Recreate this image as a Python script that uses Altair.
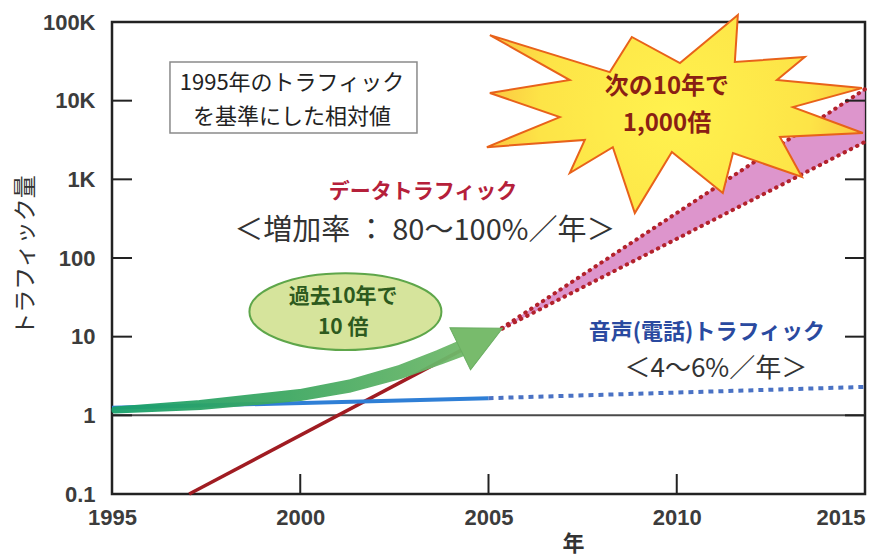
import altair as alt
import pandas as pd

# ---------------- data ----------------
x_ticks = [1995, 2000, 2005, 2010, 2015]
y_ticks = [0.1, 1, 10, 100, 1000, 10000, 100000]
inner_x_ticks = [2000, 2005, 2010]
inner_y_ticks = [1, 10, 100, 1000, 10000]

# data traffic (solid history, dotted 80%..100%/yr forecast)
data_years = [1997.05, 2005.2]
data_values = [0.1, 11.5]
data_fc_years = [2005.2, 2015]
data_fc_high = [11.5, 14000]
data_fc_low = [11.5, 3000]

# voice traffic (solid history, dotted forecast)
voice_years = [1995, 2005]
voice_values = [1.25, 1.65]
voice_fc_years = [2005, 2015]
voice_fc_values = [1.65, 2.3]

# green "10x in the past 10 years" arrow
arrow_years = [1995.08, 1997.34, 1999.99, 2001.32, 2002.65, 2003.71, 2004.24]
arrow_values = [1.17, 1.35, 1.81, 2.36, 3.56, 5.52, 6.97]
arrow_width = [7, 10, 12, 13, 14, 15, 16]
arrow_head_year = [2004.81]
arrow_head_value = [9.48]

# annotation anchors (year, value)
box_pos = ([1999.82], [10965])
box_lines = ["1995年のトラフィック", "を基準にした相対値"]
box_line_years = [1999.78, 1999.78]
box_line_values = [16800, 6200]

star_pos = ([2009.95], [6760])
star_lines = ["次の10年で", "1,000倍"]
star_line_years = [2009.74, 2009.74]
star_line_values = [14920, 5050]

ellipse_pos = ([2001.2], [20.8])
ellipse_lines = ["過去10年で", "10 倍"]
ellipse_line_years = [2001.14, 2001.14]
ellipse_line_values = [31.9, 12.9]

data_label = ["データトラフィック"]
data_label_pos = ([2003.26], [690])
data_rate = ["＜増加率 ： 80～100%／年＞"]
data_rate_pos = ([2003.31], [220])
voice_label = ["音声(電話)トラフィック"]
voice_label_pos = ([2010.8], [11.5])
voice_rate = ["＜4～6%／年＞"]
voice_rate_pos = ([2011.04], [3.88])

# ---------------- scales / axes ----------------
W, H = 753, 472
JP = "Noto Sans CJK JP"

xs = alt.Scale(domain=[1995, 2015], nice=False, zero=False)
ys = alt.Scale(type="log", domain=[0.1, 100000], nice=False)

x_axis = alt.Axis(
    values=x_ticks, format="d", title="年", ticks=False, tickSize=0, domain=False,
    grid=False, labelFont="Liberation Sans", labelFontSize=22, labelFontWeight="bold",
    labelColor="#3c3c3c", labelPadding=13, labelOverlap=False,
    labelAlign={"condition": {"test": "datum.value == 2015", "value": "right"}, "value": "center"},
    titleFont=JP, titleFontSize=22, titleFontWeight="bold", titleColor="#333333",
    titleX=461, titleY=49, titleAlign="center", titleBaseline="middle",
)
y_axis = alt.Axis(
    values=y_ticks, title="トラフィック量", ticks=False, tickSize=0, domain=False, grid=False,
    labelExpr="datum.value >= 1000 ? format(datum.value / 1000, 'd') + 'K' : (datum.value < 1 ? '0.1' : format(datum.value, 'd'))",
    labelFont="Liberation Sans", labelFontSize=22, labelFontWeight="bold", labelColor="#3c3c3c",
    labelPadding=17, labelOverlap=False,
    titleFont=JP, titleFontSize=23, titleFontWeight="normal", titleColor="#333333",
    titleAngle=270, titleX=-87, titleY=233, titleAlign="center", titleBaseline="middle",
)

X = alt.X("year:Q", scale=xs, axis=x_axis)
Y = alt.Y("value:Q", scale=ys, axis=y_axis)


def df(years, values, **extra):
    d = {"year": years, "value": values}
    d.update(extra)
    return pd.DataFrame(d)


# ---------------- layers ----------------
base_line = alt.Chart(pd.DataFrame({"value": [1]})).mark_rule(
    color="#4a4a4a", strokeWidth=2).encode(y=Y)

band = alt.Chart(df(data_fc_years, data_fc_low, value2=data_fc_high)).mark_area(
    color="#d98ac6", opacity=0.9).encode(x=X, y=Y, y2="value2:Q")

dotted_style = dict(color="#b3222c", strokeWidth=4, strokeDash=[0.5, 6.5], strokeCap="round")
data_hi = alt.Chart(df(data_fc_years, data_fc_high)).mark_line(**dotted_style).encode(x=X, y=Y)
data_lo = alt.Chart(df(data_fc_years, data_fc_low)).mark_line(**dotted_style).encode(x=X, y=Y)
data_line = alt.Chart(df(data_years, data_values)).mark_line(
    color="#a01c22", strokeWidth=3.5).encode(x=X, y=Y)

voice_line = alt.Chart(df(voice_years, voice_values)).mark_line(
    color="#2f7fd6", strokeWidth=4).encode(x=X, y=Y)
voice_fc = alt.Chart(df(voice_fc_years, voice_fc_values)).mark_line(
    color="#4a72c4", strokeWidth=4, strokeDash=[5, 5]).encode(x=X, y=Y)

green_grad = alt.LinearGradient(
    gradient="linear", x1=0, y1=0, x2=1, y2=0,
    stops=[alt.GradientStop(color="#17a06c", offset=0),
           alt.GradientStop(color="#3fa862", offset=0.5),
           alt.GradientStop(color="#72b96a", offset=1)])
arrow = alt.Chart(df(arrow_years, arrow_values, w=arrow_width)).mark_trail(
    color=green_grad, opacity=0.95).encode(
    x=X, y=Y, size=alt.Size("w:Q", scale=None, legend=None))
head = alt.Chart(df(arrow_head_year, arrow_head_value)).mark_point(
    shape="M -1 -1 L 1 0 L -1 1 Z", size=2209, angle=334, filled=True,
    fill="#78bb6c", stroke="#6aae62", strokeWidth=1, opacity=1).encode(x=X, y=Y)

ellipse = alt.Chart(df(*ellipse_pos)).mark_point(
    shape="M -1 0 A 1 0.4 0 1 1 1 0 A 1 0.4 0 1 1 -1 0 Z", size=36864, filled=True,
    fill="#d6e49c", stroke="#5ea64a", strokeWidth=2, opacity=1).encode(x=X, y=Y)
ellipse_text = alt.Chart(df(ellipse_line_years, ellipse_line_values, t=ellipse_lines)).mark_text(
    font=JP, fontSize=21, fontWeight="bold", color="#2d5a1e").encode(x=X, y=Y, text="t:N")

star_vertices = [(-0.984, -0.420), (-0.346, -0.223), (-0.229, -0.410), (0.027, -0.271),
                 (0.335, -0.527), (0.319, -0.277), (0.691, -0.303), (0.543, -0.181),
                 (0.995, -0.138), (0.628, -0.037), (1.0, 0.101), (0.559, 0.122),
                 (0.676, 0.335), (0.309, 0.207), (0.255, 0.420), (-0.016, 0.202),
                 (-0.213, 0.527), (-0.330, 0.176), (-0.559, 0.314), (-0.479, 0.138),
                 (-1.0, 0.176), (-0.612, 0.016), (-0.984, -0.112), (-0.559, -0.181)]
star_path = "M " + " L ".join(f"{u} {v}" for u, v in star_vertices) + " Z"
star_fill = alt.RadialGradient(
    gradient="radial", x1=0.5, y1=0.5, x2=0.5, y2=0.5, r1=0, r2=0.6,
    stops=[alt.GradientStop(color="#fff24e", offset=0),
           alt.GradientStop(color="#fde447", offset=0.6),
           alt.GradientStop(color="#f9b23c", offset=1)])
star = alt.Chart(df(*star_pos)).mark_point(
    shape=star_path, size=141376, filled=True, fill=star_fill,
    stroke="#e8621a", strokeWidth=2, opacity=1).encode(x=X, y=Y)
star_text = alt.Chart(df(star_line_years, star_line_values, t=star_lines)).mark_text(
    font=JP, fontSize=24, fontWeight="bold", color="#8a1f14").encode(x=X, y=Y, text="t:N")

box = alt.Chart(df(*box_pos)).mark_point(
    shape="M -1 -0.287 L 1 -0.287 L 1 0.287 L -1 0.287 Z", size=61009, filled=True,
    fill="#ffffff", stroke="#8a8a8a", strokeWidth=1.5, opacity=1).encode(x=X, y=Y)
box_text = alt.Chart(df(box_line_years, box_line_values, t=box_lines)).mark_text(
    font=JP, fontSize=22, color="#222222").encode(x=X, y=Y, text="t:N")

lbl_data = alt.Chart(df(*data_label_pos, t=data_label)).mark_text(
    font=JP, fontSize=21, fontWeight="bold", color="#b5203a").encode(x=X, y=Y, text="t:N")
lbl_data_rate = alt.Chart(df(*data_rate_pos, t=data_rate)).mark_text(
    font=JP, fontSize=29, color="#333333").encode(x=X, y=Y, text="t:N")
lbl_voice = alt.Chart(df(*voice_label_pos, t=voice_label)).mark_text(
    font=JP, fontSize=22, fontWeight="bold", color="#2a4aa0").encode(x=X, y=Y, text="t:N")
lbl_voice_rate = alt.Chart(df(*voice_rate_pos, t=voice_rate)).mark_text(
    font=JP, fontSize=26, color="#333333").encode(x=X, y=Y, text="t:N")

tick_style = dict(color="#222222", strokeWidth=2)
yt = pd.DataFrame({"value": inner_y_ticks})
xt = pd.DataFrame({"year": inner_x_ticks})
ticks_left = alt.Chart(yt).mark_rule(**tick_style).encode(
    y=Y, x=alt.value(0), x2=alt.value(20))
ticks_right = alt.Chart(yt).mark_rule(**tick_style).encode(
    y=Y, x=alt.value(W - 20), x2=alt.value(W))
ticks_bottom = alt.Chart(xt).mark_rule(**tick_style).encode(
    x=X, y=alt.value(H - 20), y2=alt.value(H))

chart = alt.layer(
    base_line, band, data_hi, data_lo, data_line, voice_line, voice_fc,
    arrow, head, ellipse, ellipse_text, star, star_text, box, box_text,
    lbl_data, lbl_data_rate, lbl_voice, lbl_voice_rate,
    ticks_left, ticks_right, ticks_bottom,
).properties(
    width=W, height=H, autosize="none",
    padding={"left": 112, "top": 22, "right": 9, "bottom": 62},
    background="#ffffff",
).configure_view(stroke="#222222", strokeWidth=2.5)

chart.save("out.html", embed_options={"renderer": "svg", "actions": False})
